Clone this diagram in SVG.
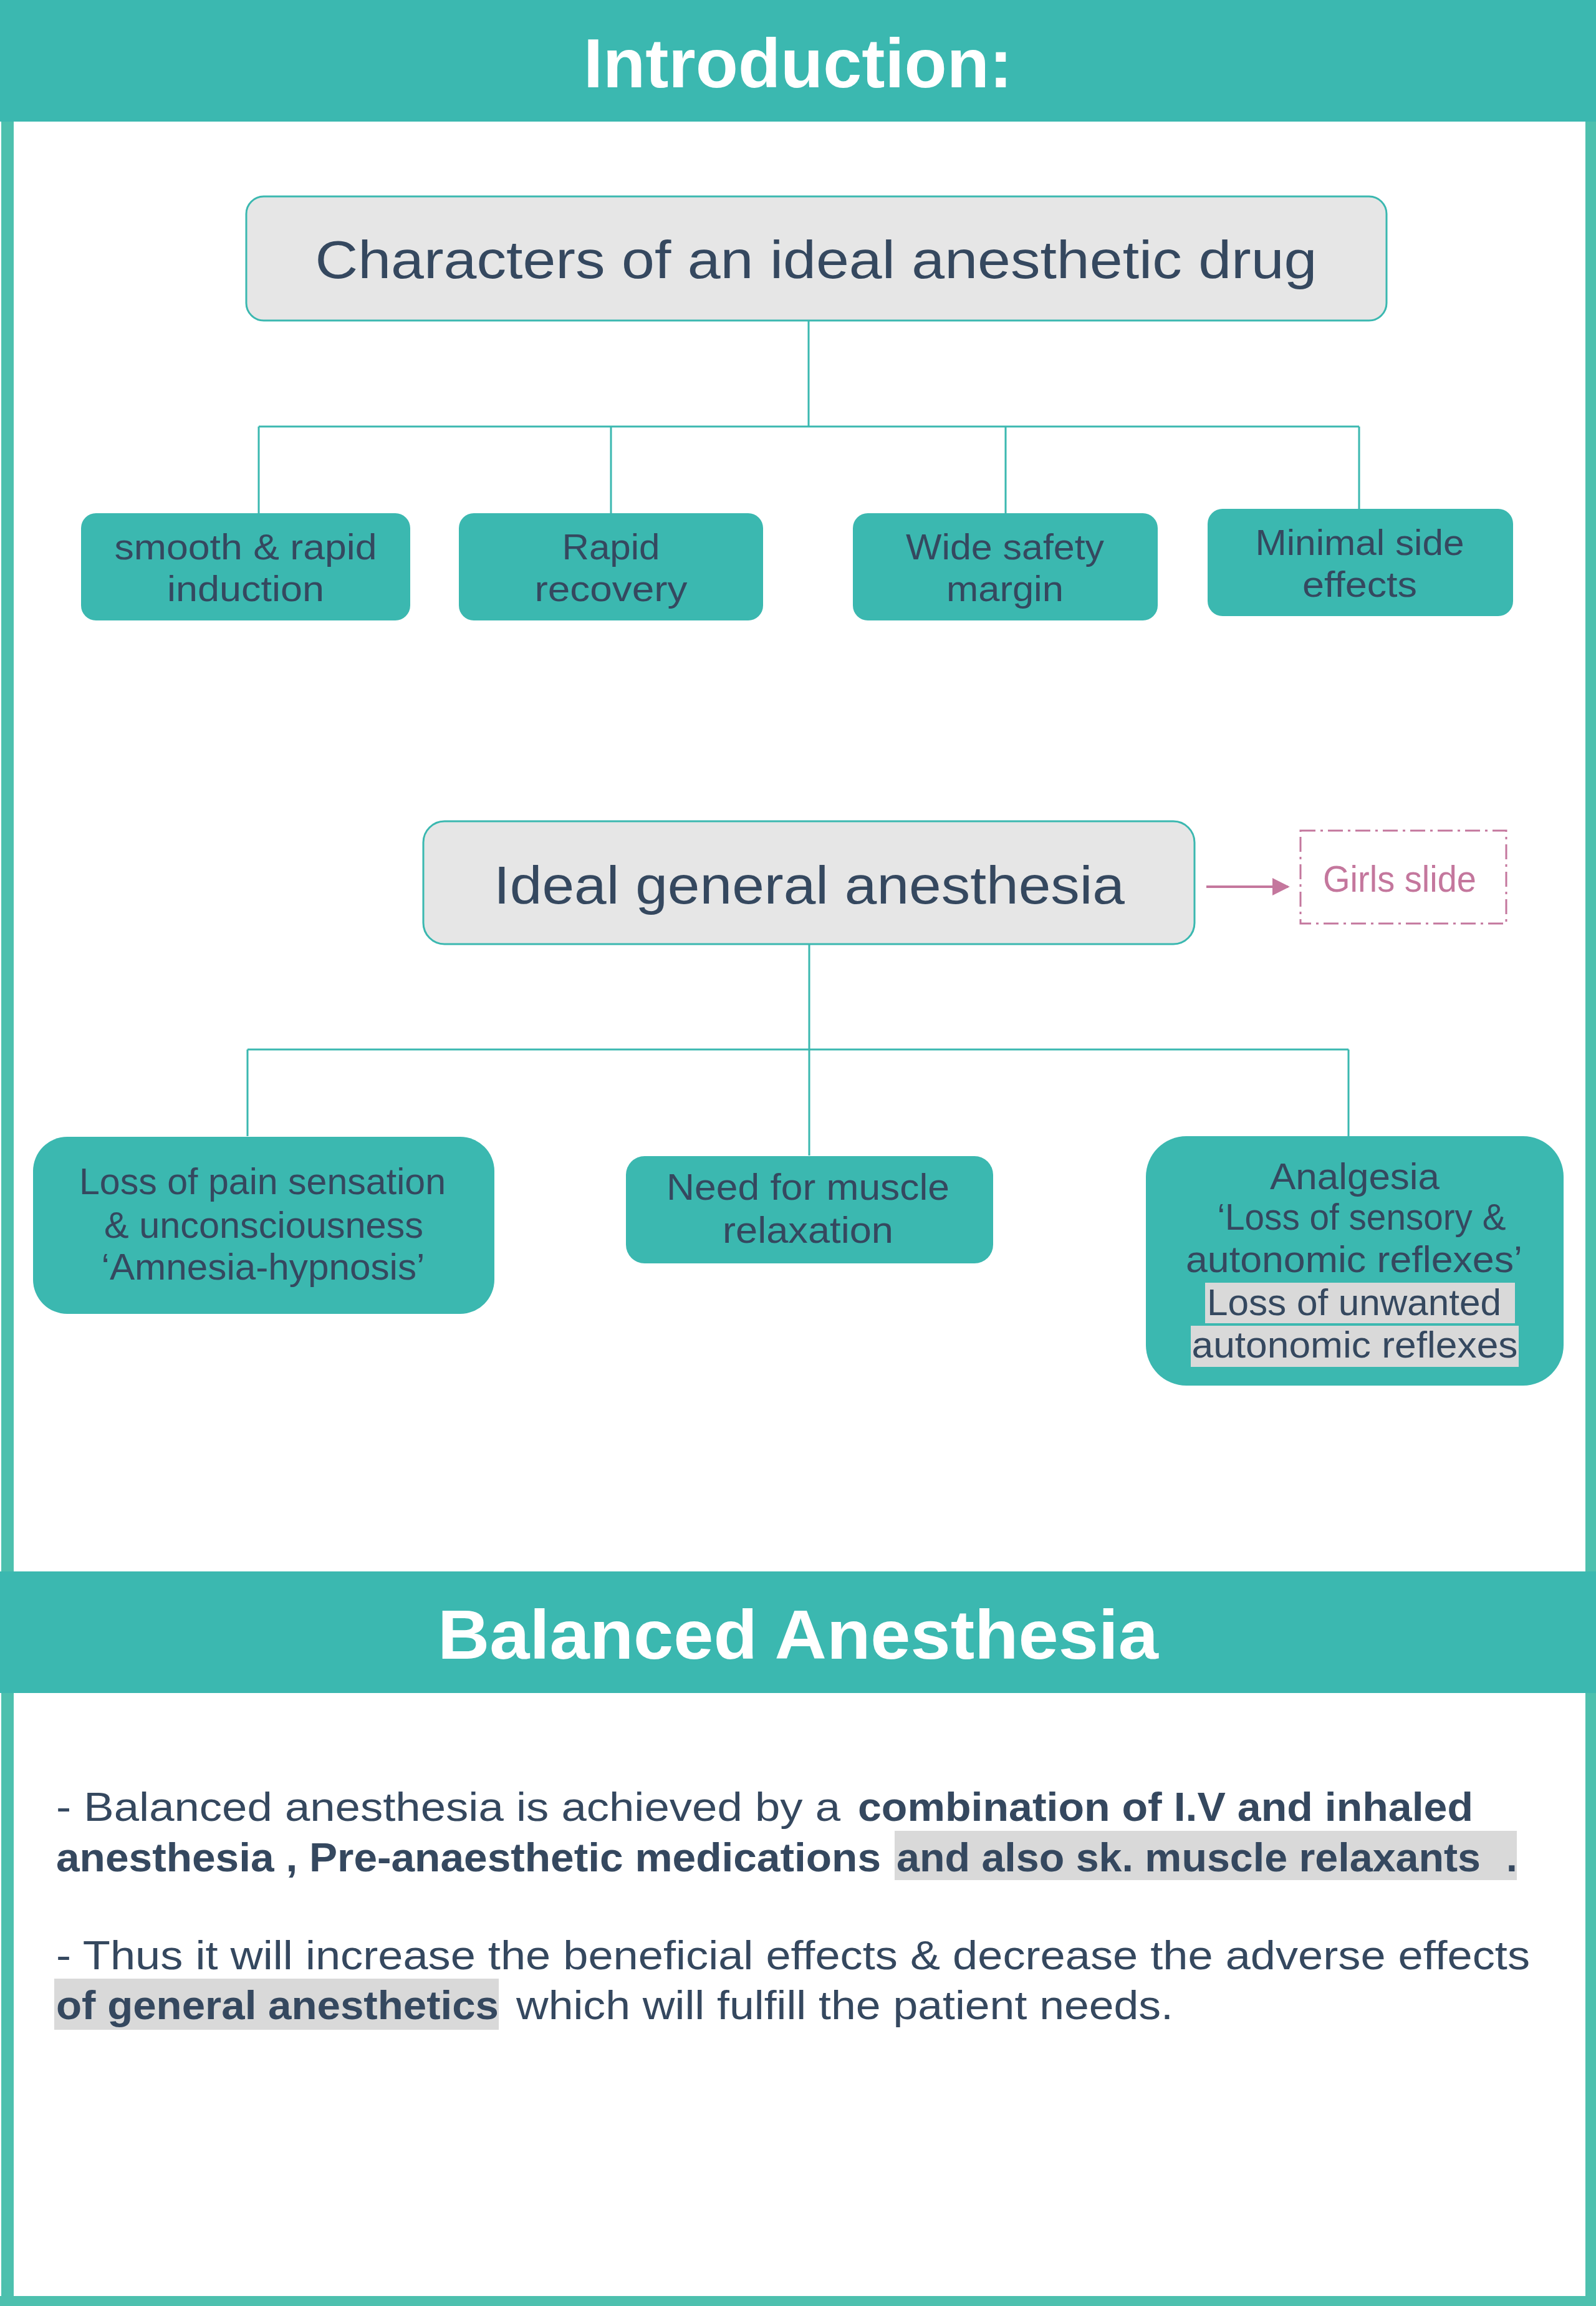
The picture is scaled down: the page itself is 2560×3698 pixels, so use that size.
<svg xmlns="http://www.w3.org/2000/svg" width="2560" height="3698" viewBox="0 0 2560 3698">
<defs>
<style>
.band{fill:#3bb8b0}
.border{fill:#4dc0ae}
.t{font-family:"Liberation Sans",Arial,sans-serif;fill:#35485f}
.h{font-family:"Liberation Sans",Arial,sans-serif;fill:#ffffff;font-weight:bold;font-size:112px}
.gbox{fill:#e6e6e6;stroke:#3bb8b0;stroke-width:3}
.tbox{fill:#3bb8b0}
.conn{fill:none;stroke:#3bb8b0;stroke-width:3}
.n1{font-size:58px}
.n2{font-size:60px}
.p{font-size:64px}
.b{font-weight:bold}
.hl{fill:#d9d9d9}
.pink{fill:#c4779d;font-family:"Liberation Sans",Arial,sans-serif;font-size:60px}
</style>
<marker id="arr" viewBox="0 0 10 10" refX="9" refY="5" markerWidth="7" markerHeight="7" markerUnits="strokeWidth" orient="auto">
<path d="M0,0 L10,5 L0,10 z" fill="#c4779d"/>
</marker>
</defs>
<rect width="2560" height="3698" fill="#ffffff"/>
<g id="frame">
<rect class="band" x="0" y="0" width="2560" height="195"/>
<rect class="border" x="2" y="195" width="20" height="3503"/>
<rect class="border" x="2543" y="195" width="17" height="3503"/>
<rect class="border" x="0" y="3682" width="2560" height="16"/>
<rect class="band" x="0" y="2520" width="2560" height="195"/>
<text class="h" x="1280" y="140" text-anchor="middle" textLength="688" lengthAdjust="spacingAndGlyphs">Introduction:</text>
<text class="h" x="1280" y="2660" text-anchor="middle" textLength="1156" lengthAdjust="spacingAndGlyphs">Balanced Anesthesia</text>
</g>
<g id="connectors">
<path class="conn" d="M1297,514 V684 M415,684 H2180 M415,684 V823 M980,684 V823 M1613,684 V823 M2180,684 V816"/>
<path class="conn" d="M1298,1514 V1853 M397,1683 H2163 M397,1683 V1822 M2163,1683 V1822"/>
<line x1="1935" y1="1422" x2="2066" y2="1422" stroke="#c4779d" stroke-width="4" marker-end="url(#arr)"/>
</g>
<g id="n-characters">
<rect class="gbox" x="395" y="315" width="1829" height="199" rx="28"/>
<text class="t" x="1309" y="446" font-size="85" text-anchor="middle" textLength="1607" lengthAdjust="spacingAndGlyphs">Characters of an ideal anesthetic drug</text>
</g>
<g id="n-smooth">
<rect class="tbox" x="130" y="823" width="528" height="172" rx="24"/>
<text class="t n1" x="394" y="897" text-anchor="middle" textLength="421" lengthAdjust="spacingAndGlyphs">smooth &amp; rapid</text>
<text class="t n1" x="394" y="964" text-anchor="middle" textLength="252" lengthAdjust="spacingAndGlyphs">induction</text>
</g>
<g id="n-recovery">
<rect class="tbox" x="736" y="823" width="488" height="172" rx="24"/>
<text class="t n1" x="980" y="897" text-anchor="middle" textLength="157" lengthAdjust="spacingAndGlyphs">Rapid</text>
<text class="t n1" x="980" y="964" text-anchor="middle" textLength="245" lengthAdjust="spacingAndGlyphs">recovery</text>
</g>
<g id="n-safety">
<rect class="tbox" x="1368" y="823" width="489" height="172" rx="24"/>
<text class="t n1" x="1612" y="897" text-anchor="middle" textLength="318" lengthAdjust="spacingAndGlyphs">Wide safety</text>
<text class="t n1" x="1612" y="964" text-anchor="middle" textLength="188" lengthAdjust="spacingAndGlyphs">margin</text>
</g>
<g id="n-side">
<rect class="tbox" x="1937" y="816" width="490" height="172" rx="24"/>
<text class="t n1" x="2181" y="890" text-anchor="middle" textLength="335" lengthAdjust="spacingAndGlyphs">Minimal side</text>
<text class="t n1" x="2181" y="957" text-anchor="middle" textLength="184" lengthAdjust="spacingAndGlyphs">effects</text>
</g>
<g id="n-ideal">
<rect class="gbox" x="679" y="1317" width="1237" height="197" rx="34"/>
<text class="t" x="1298" y="1449" font-size="85" text-anchor="middle" textLength="1012" lengthAdjust="spacingAndGlyphs">Ideal general anesthesia</text>
</g>
<g id="n-girls">
<rect x="2086" y="1332" width="330" height="149" fill="none" stroke="#c4779d" stroke-width="3" stroke-dasharray="24 8 4 8"/>
<text class="pink" x="2245" y="1430" text-anchor="middle" textLength="246" lengthAdjust="spacingAndGlyphs">Girls slide</text>
</g>
<g id="n-loss">
<rect class="tbox" x="53" y="1823" width="740" height="284" rx="55"/>
<text class="t n2" x="421" y="1915" text-anchor="middle" textLength="588" lengthAdjust="spacingAndGlyphs">Loss of pain sensation</text>
<text class="t n2" x="423" y="1985" text-anchor="middle" textLength="512" lengthAdjust="spacingAndGlyphs">&amp; unconsciousness</text>
<text class="t n2" x="422" y="2052" text-anchor="middle" textLength="519" lengthAdjust="spacingAndGlyphs">‘Amnesia-hypnosis’</text>
</g>
<g id="n-muscle">
<rect class="tbox" x="1004" y="1854" width="589" height="172" rx="30"/>
<text class="t n2" x="1296" y="1924" text-anchor="middle" textLength="454" lengthAdjust="spacingAndGlyphs">Need for muscle</text>
<text class="t n2" x="1296" y="1993" text-anchor="middle" textLength="274" lengthAdjust="spacingAndGlyphs">relaxation</text>
</g>
<g id="n-analgesia">
<rect class="tbox" x="1838" y="1822" width="670" height="400" rx="65"/>
<rect class="hl" x="1933" y="2057" width="497" height="65"/>
<rect class="hl" x="1910" y="2126" width="526" height="66"/>
<text class="t n2" x="2173" y="1907" text-anchor="middle" textLength="272" lengthAdjust="spacingAndGlyphs">Analgesia</text>
<text class="t n2" x="2184" y="1972" text-anchor="middle" textLength="463" lengthAdjust="spacingAndGlyphs">‘Loss of sensory &amp;</text>
<text class="t n2" x="2172" y="2040" text-anchor="middle" textLength="540" lengthAdjust="spacingAndGlyphs">autonomic reflexes’</text>
<text class="t n2" x="2172" y="2109" text-anchor="middle" textLength="472" lengthAdjust="spacingAndGlyphs">Loss of unwanted</text>
<text class="t n2" x="2173" y="2177" text-anchor="middle" textLength="523" lengthAdjust="spacingAndGlyphs">autonomic reflexes</text>
</g>
<g id="balanced-text">
<rect class="hl" x="1435" y="2936" width="998" height="79"/>
<rect class="hl" x="87" y="3173" width="713" height="82"/>
<text class="t p" x="90" y="2920" textLength="1258" lengthAdjust="spacingAndGlyphs">- Balanced anesthesia is achieved by a</text>
<text class="t p b" x="1376" y="2920" textLength="987" lengthAdjust="spacingAndGlyphs">combination of I.V and inhaled</text>
<text class="t p b" x="90" y="3001" textLength="1323" lengthAdjust="spacingAndGlyphs">anesthesia , Pre-anaesthetic medications</text>
<text class="t p b" x="1438" y="3001" textLength="937" lengthAdjust="spacingAndGlyphs">and also sk. muscle relaxants</text>
<text class="t p b" x="2416" y="3001">.</text>
<text class="t p" x="90" y="3158" textLength="2364" lengthAdjust="spacingAndGlyphs">- Thus it will increase the beneficial effects &amp; decrease the adverse effects</text>
<text class="t p b" x="90" y="3238" textLength="710" lengthAdjust="spacingAndGlyphs">of general anesthetics</text>
<text class="t p" x="828" y="3238" textLength="1054" lengthAdjust="spacingAndGlyphs">which will fulfill the patient needs.</text>
</g>
</svg>
